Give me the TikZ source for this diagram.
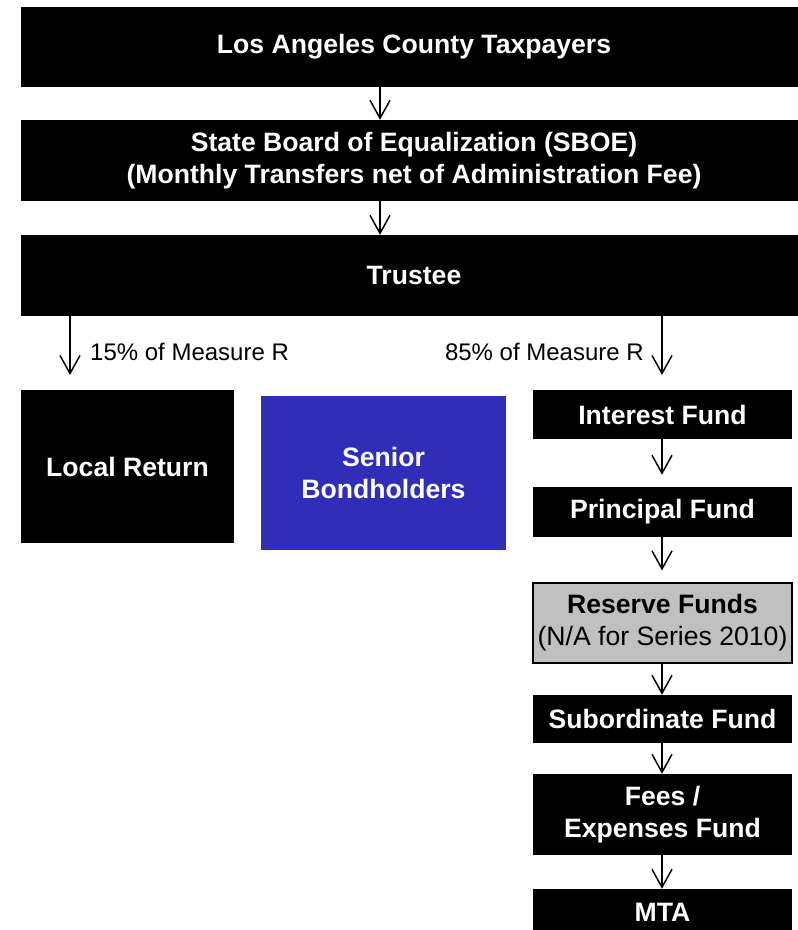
\documentclass[tikz,border=0pt]{standalone}
\usepackage{fontspec}
\setmainfont{Liberation Sans}
\usetikzlibrary{arrows.meta}
\definecolor{sbblue}{RGB}{48,46,184}
\definecolor{resgray}{RGB}{192,192,192}
\begin{document}
\begin{tikzpicture}[x=1pt,y=1pt,
  box/.style={fill=black,text=white,font=\fontsize{26.6}{32}\selectfont\bfseries,align=center,inner sep=0pt,anchor=center},
  arr/.style={-{Straight Barb[length=18pt,width=20pt]},line width=1.5pt},
  lbl/.style={font=\fontsize{24}{28}\selectfont,inner sep=0pt}]
\useasboundingbox (0,0) rectangle (798,-930);
\node[box,minimum width=786,minimum height=80] (tax) at (414,-47) {Los Angeles County Taxpayers};
\node[box,minimum width=786,minimum height=81] (sboe) at (414,-160.5) {State Board of Equalization (SBOE)\\(Monthly Transfers net of Administration Fee)};
\node[box,minimum width=786,minimum height=81] (trustee) at (414,-275.5) {Trustee};
\node[box,minimum width=213,minimum height=153] (local) at (127.5,-466.5) {Local Return};
\node[box,fill=sbblue,minimum width=245,minimum height=154] (senior) at (383.5,-473) {Senior\\Bondholders};
\node[box,minimum width=259,minimum height=49] (interest) at (662.5,-414.5) {Interest Fund};
\node[box,minimum width=259,minimum height=50] (principal) at (662.5,-512) {Principal Fund};
\node[box,fill=resgray,draw=black,line width=1.2pt,text=black,minimum width=259,minimum height=80] (reserve) at (662.5,-623) {Reserve Funds\\{\mdseries (N/A for Series 2010)}};
\node[box,minimum width=259,minimum height=48] (sub) at (662.5,-719) {Subordinate Fund};
\node[box,minimum width=259,minimum height=81] (fees) at (662.5,-814.5) {Fees /\\Expenses Fund};
\node[box,minimum width=259,minimum height=46] (mta) at (662.5,-912) {MTA};
\coordinate (lend) at (70,-375);
\coordinate (rend) at (662,-375);
\node[lbl,anchor=west] (l15) at (90,-352) {15\% of Measure R};
\node[lbl,anchor=east] (l85) at (644,-352) {85\% of Measure R};
\draw[arr] (tax.south -| 380,0) -- (sboe.north -| 380,0);
\draw[arr] (sboe.south -| 380,0) -- (trustee.north -| 380,0);
\draw[arr] (trustee.south -| lend) -- (lend);
\draw[arr] (trustee.south -| rend) -- (rend);
\draw[arr,shorten >=12pt] (interest.south -| rend) -- (principal.north -| rend);
\draw[arr,shorten >=12pt] (principal.south -| rend) -- (reserve.north -| rend);
\draw[arr] (reserve.south -| rend) -- (sub.north -| rend);
\draw[arr] (sub.south -| rend) -- (fees.north -| rend);
\draw[arr] (fees.south -| rend) -- (mta.north -| rend);
\end{tikzpicture}
\end{document}
